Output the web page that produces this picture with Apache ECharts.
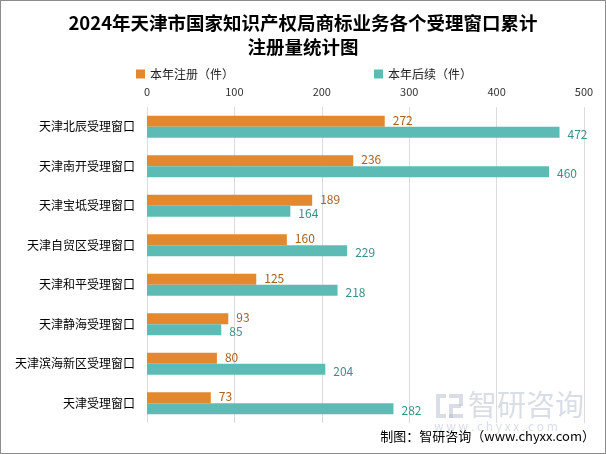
<!DOCTYPE html>
<html>
<head>
<meta charset="utf-8">
<script src="https://cdn.jsdelivr.net/npm/echarts@6/dist/echarts.min.js"></script>
<style>
  html, body { margin: 0; padding: 0; background: #fff; }
  #main { width: 604px; height: 452px; border: 1px solid #8c8c8c; }
</style>
</head>
<body>
<div id="main"></div>
<script>
const categories = ['天津北辰受理窗口', '天津南开受理窗口', '天津宝坻受理窗口', '天津自贸区受理窗口',
  '天津和平受理窗口', '天津静海受理窗口', '天津滨海新区受理窗口', '天津受理窗口'];
const regValues = [272, 236, 189, 160, 125, 93, 80, 73];
const laterValues = [472, 460, 164, 229, 218, 85, 204, 282];
const xTicks = [0, 100, 200, 300, 400, 500];

const chart = echarts.init(document.getElementById('main'));
const font = '"Noto Sans CJK SC", "Microsoft YaHei", sans-serif';
const wm = 'rgba(170,180,200,0.45)';

chart.setOption({
  animation: false,
  title: {
    text: '2024年天津市国家知识产权局商标业务各个受理窗口累计\n注册量统计图',
    left: 'center',
    top: 5,
    textStyle: { fontFamily: font, fontSize: 18.5, fontWeight: 'bold', color: '#000', lineHeight: 24 }
  },
  legend: {
    top: 62,
    left: 130,
    itemGap: 140,
    itemWidth: 9,
    itemHeight: 9,
    icon: 'rect',
    textStyle: { fontFamily: font, fontSize: 12, color: '#222' },
    data: ['本年注册（件）', '本年后续（件）']
  },
  grid: { left: 146, right: 21, top: 106, bottom: 30 },
  xAxis: {
    type: 'value',
    position: 'top',
    min: xTicks[0],
    max: xTicks[xTicks.length - 1],
    interval: 100,
    axisLine: { show: false },
    axisTick: { show: false },
    axisLabel: { fontFamily: font, fontSize: 11, color: '#333', margin: 10 },
    splitLine: { lineStyle: { color: '#dcdcdc' } }
  },
  yAxis: {
    type: 'category',
    inverse: true,
    data: categories,
    axisLine: { show: false },
    axisTick: { show: false },
    axisLabel: { fontFamily: font, fontSize: 12, color: '#000', margin: 12 }
  },
  series: [
    {
      name: '本年注册（件）',
      type: 'bar',
      data: regValues,
      barWidth: 11,
      barGap: '0%',
      itemStyle: { color: '#E2882F' },
      label: { show: true, position: 'right', distance: 8, fontFamily: font, fontSize: 12, color: '#A8601F', offset: [0, -1] }
    },
    {
      name: '本年后续（件）',
      type: 'bar',
      data: laterValues,
      barWidth: 11,
      itemStyle: { color: '#5CBCB5' },
      label: { show: true, position: 'right', distance: 8, fontFamily: font, fontSize: 12, color: '#3A8F8A', offset: [0, 2] }
    }
  ],
  graphic: [
    { type: 'rect', shape: { x: 435, y: 393, width: 10, height: 4 }, style: { fill: wm } },
    { type: 'rect', shape: { x: 435, y: 397, width: 4, height: 20 }, style: { fill: wm } },
    { type: 'rect', shape: { x: 439, y: 413, width: 6, height: 4 }, style: { fill: wm } },
    { type: 'rect', shape: { x: 448, y: 393, width: 14, height: 4 }, style: { fill: wm } },
    { type: 'rect', shape: { x: 458, y: 397, width: 4, height: 8 }, style: { fill: wm } },
    { type: 'rect', shape: { x: 448, y: 403, width: 12, height: 4 }, style: { fill: wm } },
    { type: 'rect', shape: { x: 448, y: 407, width: 4, height: 10 }, style: { fill: wm } },
    { type: 'rect', shape: { x: 448, y: 413, width: 14, height: 4 }, style: { fill: wm } },
    {
      type: 'text', left: 467, top: 389,
      style: { text: '智研咨询', font: '29px ' + font, fill: wm }
    },
    {
      type: 'text', left: 433, top: 419,
      style: { text: 'w w w . c h y x x . c o m', font: '12px ' + font, fill: wm }
    },
    {
      type: 'text', right: 10, top: 429,
      style: { text: '制图：智研咨询（www.chyxx.com）', font: '13px ' + font, fill: '#000' }
    }
  ]
});
</script>
</body>
</html>
